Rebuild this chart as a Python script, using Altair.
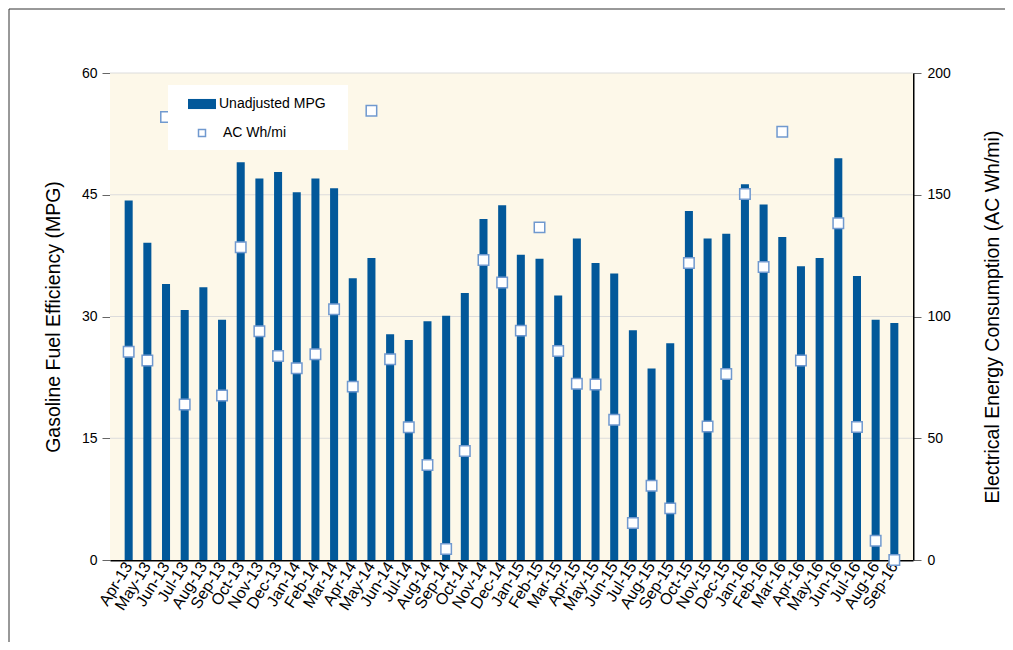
import altair as alt
import pandas as pd

months = ["Apr-13", "May-13", "Jun-13", "Jul-13", "Aug-13", "Sep-13", "Oct-13", "Nov-13",
          "Dec-13", "Jan-14", "Feb-14", "Mar-14", "Apr-14", "May-14", "Jun-14", "Jul-14",
          "Aug-14", "Sep-14", "Oct-14", "Nov-14", "Dec-14", "Jan-15", "Feb-15", "Mar-15",
          "Apr-15", "May-15", "Jun-15", "Jul-15", "Aug-15", "Sep-15", "Oct-15", "Nov-15",
          "Dec-15", "Jan-16", "Feb-16", "Mar-16", "Apr-16", "May-16", "Jun-16", "Jul-16",
          "Aug-16", "Sep-16"]

mpg = [44.3, 39.1, 34.0, 30.8, 33.6, 29.6, 49.0, 47.0, 47.8, 45.3, 47.0, 45.8,
       34.7, 37.2, 27.8, 27.1, 29.4, 30.1, 32.9, 42.0, 43.7, 37.6, 37.1, 32.6,
       39.6, 36.6, 35.3, 28.3, 23.6, 26.7, 43.0, 39.6, 40.2, 46.3, 43.8, 39.8,
       36.2, 37.2, 49.5, 35.0, 29.6, 29.2]

ac_whmi = [85.5, 81.9, 181.9, 63.9, None, 67.6, 128.4, 93.9, 83.8, 78.7, 84.5, 103.0,
           71.2, 184.5, 82.4, 54.5, 39.0, 4.5, 44.8, 123.2, 114.0, 94.2, 136.6, 85.8,
           72.4, 72.1, 57.6, 15.2, 30.5, 21.2, 122.0, 54.8, 76.4, 150.3, 120.3, 175.9,
           81.9, None, 138.3, 54.6, 7.9, 0.0]

mpg_ticks = [0, 15, 30, 45, 60]
wh_ticks = [0, 50, 100, 150, 200]
grid_values = [15, 30, 45, 60]

series_bar = "Unadjusted MPG"
series_pt = "AC Wh/mi"

df = pd.DataFrame({"month": months, "mpg": mpg, "wh": ac_whmi})
df["s1"] = series_bar
df["s2"] = series_pt

FONT = "Liberation Sans"
BG = "#FDF8E9"

x_enc = alt.X(
    "month:N", sort=months,
    scale=alt.Scale(paddingInner=0.57, paddingOuter=0.785),
    axis=alt.Axis(title=None, labelAngle=-58, labelFontSize=16, ticks=False,
                  domainColor="black", domainWidth=2, labelPadding=3,
                  labelColor="black", labelFont=FONT),
)

bars = alt.Chart(df).mark_bar(color="#02589A").encode(
    x=x_enc,
    y=alt.Y("mpg:Q", scale=alt.Scale(domain=[0, 60], nice=False),
            axis=alt.Axis(values=mpg_ticks, title="Gasoline Fuel Efficiency (MPG)",
                          grid=False, domainColor="#444", domainWidth=1,
                          tickColor="#666", tickSize=8, labelPadding=5, labelFontSize=14,
                          labelColor="black", titleFontSize=19.5, titleFontWeight="normal",
                          titleColor="black", titlePadding=18, labelFont=FONT, titleFont=FONT)),
    color=alt.Color("s1:N", scale=alt.Scale(domain=[series_bar], range=["#02589A"]),
                    legend=alt.Legend(title=None, orient="none", legendX=77, legendY=16,
                                      symbolType="M-1,-0.36H1V0.36H-1Z", symbolSize=784,
                                      labelFontSize=14, labelOffset=2, padding=0,
                                      labelFont=FONT, labelColor="black")),
)

points = alt.Chart(df).mark_point(shape="square", filled=True, fill="white", size=110,
                                  strokeWidth=1.5, opacity=1).encode(
    x=x_enc,
    y=alt.Y("wh:Q", scale=alt.Scale(domain=[0, 200], nice=False),
            axis=alt.Axis(orient="right", values=wh_ticks,
                          title="Electrical Energy Consumption (AC Wh/mi)", grid=False,
                          domainColor="black", domainWidth=2, tickColor="#666", tickSize=8,
                          labelPadding=6, labelFontSize=14, labelColor="black",
                          titleFontSize=19.5, titleFontWeight="normal", titleColor="black",
                          titlePadding=52, titleAngle=270, labelFont=FONT, titleFont=FONT)),
    stroke=alt.Stroke("s2:N", scale=alt.Scale(domain=[series_pt], range=["#7099CF"]),
                      legend=alt.Legend(title=None, orient="none", legendX=85, legendY=53,
                                        symbolType="square", symbolSize=49,
                                        symbolFillColor="white", symbolStrokeWidth=1.5,
                                        labelFontSize=14, labelOffset=14, padding=0,
                                        labelFont=FONT, labelColor="black")),
)

grid = alt.Chart(pd.DataFrame({"g": grid_values})).mark_rule(
    color="#dcdcdc", strokeWidth=1
).encode(y=alt.Y("g:Q", scale=alt.Scale(domain=[0, 60], nice=False), axis=None))

one = pd.DataFrame({"d": [0]})
frame = alt.Chart(one).mark_rect(fillOpacity=0, stroke="#333333", strokeWidth=1).encode(
    x=alt.value(-101), x2=alt.value(896), y=alt.value(-64), y2=alt.value(640)
)
plot_bg = alt.Chart(one).mark_rect(fill=BG).encode(
    x=alt.value(0), x2=alt.value(803), y=alt.value(0), y2=alt.value(487)
)
legend_bg = alt.Chart(one).mark_rect(fill="white").encode(
    x=alt.value(58), x2=alt.value(238), y=alt.value(12), y2=alt.value(77)
)

chart = alt.layer(frame, plot_bg, grid, bars, points, legend_bg).resolve_scale(
    y="independent", color="independent"
).properties(
    width=803, height=487,
    padding={"left": 102, "top": 65, "right": 92, "bottom": 82},
    autosize=alt.AutoSizeParams(type="none"),
).configure_view(stroke="transparent").configure(font=FONT)

chart.save("out.html", embed_options={"renderer": "svg", "actions": False})
